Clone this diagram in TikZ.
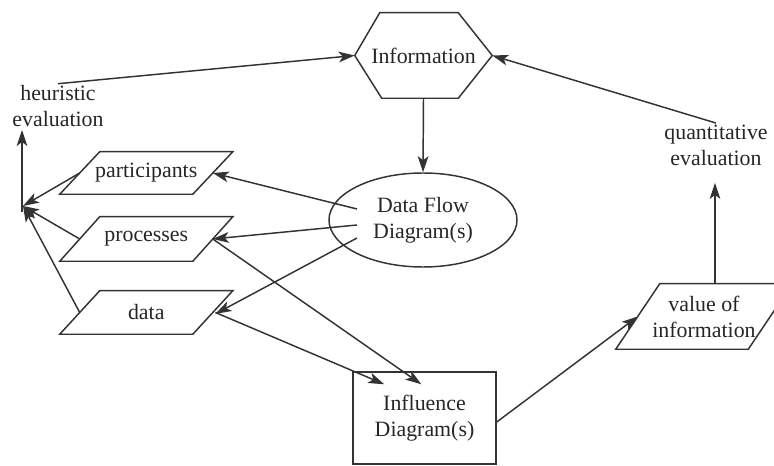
\documentclass[tikz,border=0pt]{standalone}
\usepackage{fontspec}
\setmainfont{Liberation Serif}
\usetikzlibrary{arrows.meta,calc,shapes.geometric}

\begin{document}
\begin{tikzpicture}[x=0.75pt,y=-0.75pt,
  every node/.style={font=\fontsize{16.4}{19.5}\selectfont, text=black!85, align=center},
  line/.style={draw=black!80, line width=1.1pt},
  arr/.style={line, -{Stealth[length=12pt,width=8pt,inset=3pt]}},
  parabox/.style={minimum width=99.4pt, minimum height=32pt, inner sep=0pt},
  label/.style={inner sep=1pt}
]
\useasboundingbox (0,0) rectangle (774,466);

% slanted outline around a rectangular node: #1 node, #2 half slant
\newcommand\slantbox[2]{%
  \draw[line] ([xshift=#2]#1.north west) -- ([xshift=#2]#1.north east)
    -- ([xshift=-#2]#1.south east) -- ([xshift=-#2]#1.south west) -- cycle;}

% hexagon
\node[minimum width=102.75pt, minimum height=63.75pt, inner sep=0pt] (info) at (423.5,55.5) {Information};
\draw[line] (info.west) -- ([xshift=18.75pt]info.north west) -- ([xshift=-25.5pt]info.north east)
  -- (info.east) -- ([xshift=-25.5pt]info.south east) -- ([xshift=20.25pt]info.south west) -- cycle;

% ellipse
\node[ellipse, line, minimum width=141pt, minimum height=70.5pt, inner sep=0pt] (dfd) at (423,220) {Data Flow\\Diagram(s)};

% parallelograms
\node[parabox, minimum height=31.5pt] (part) at (146.25,173) {participants};
\slantbox{part}{15pt}
\node[parabox, minimum height=33pt] (proc) at (146.25,239) {processes};
\slantbox{proc}{15pt}
\node[parabox, minimum height=32.25pt] (data) at (146.25,312.5) {data};
\slantbox{data}{15pt}
\node[minimum width=99pt, minimum height=48.75pt, inner sep=0pt] (val) at (704,316.5) {value of\\information};
\slantbox{val}{16.5pt}

% influence diagram box
\node[line, minimum width=107.25pt, minimum height=69pt, inner sep=0pt] (infl) at (424.5,418) {Influence\\Diagram(s)};

% evaluation labels
\node[label] (heur) at (58,106) {heuristic\\evaluation};
\node[label] (quant) at (716,145) {quantitative\\evaluation};

% connection points
\coordinate (hub) at (23,206);
\coordinate (hubtop) at (22,130);
\coordinate (hubbase) at (22,212);

% connectors
\draw[arr] (heur.north) -- (info.west);
\draw[arr] (quant.north) -- (info.east);
\draw[arr] (info.south) -- (dfd.north);

\draw[arr] ($(dfd)+(-66,-11)$) -- (part.east);
\draw[arr] ($(dfd)+(-66,5)$) -- (proc.east);
\draw[arr] ($(dfd)+(-66,18)$) -- ([xshift=2pt,yshift=-1pt]data.east);

\draw[arr] (part.west) -- (hub);
\draw[arr] (proc.west) -- (hub);
\draw[arr] (data.west) -- (hub);
\draw[arr] (hubbase) -- (hubtop);

\draw[arr] (proc.east) -- ($(infl.north west)+(69,13)$);
\draw[arr] ([xshift=2pt]data.east) -- ($(infl.north west)+(32,13)$);

\draw[arr] ([yshift=-3pt]infl.east) -- (val.west);
\draw[arr] ([xshift=8.25pt]val.north) -- ($(quant.south)+(-1,16)$);
\end{tikzpicture}
\end{document}
